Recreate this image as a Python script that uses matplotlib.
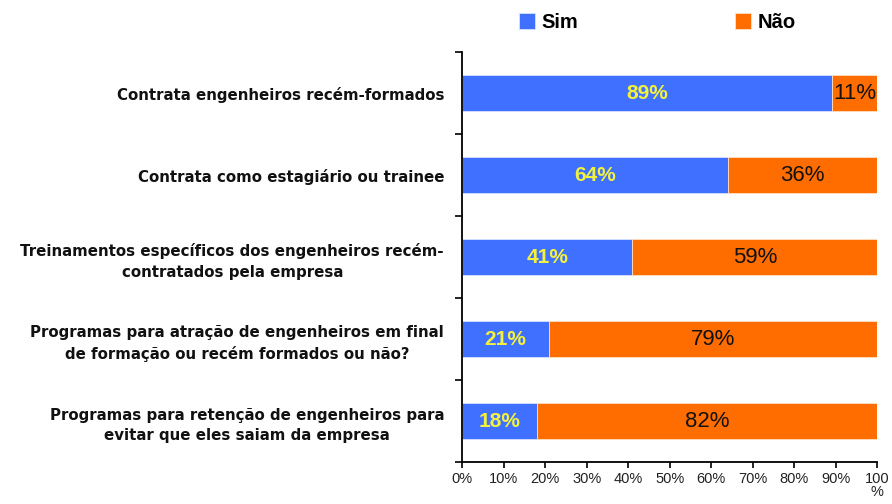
import numpy as np
import matplotlib.pyplot as plt

plt.rcParams['font.family'] = ['Liberation Sans', 'DejaVu Sans']

categorias = [
    "Contrata engenheiros recém-formados",
    "Contrata como estagiário ou trainee",
    "Treinamentos específicos dos engenheiros recém-\ncontratados pela empresa",
    "Programas para atração de engenheiros em final\nde formação ou recém formados ou não?",
    "Programas para retenção de engenheiros para\nevitar que eles saiam da empresa",
]
sim = [89, 64, 41, 21, 18]
nao = [11, 36, 59, 79, 82]
xticks = [0, 10, 20, 30, 40, 50, 60, 70, 80, 90, 100]
xlabels = ["0%", "10%", "20%", "30%", "40%", "50%", "60%", "70%", "80%", "90%", "100\n%"]

azul = "#4070FF"
laranja = "#FF6C00"

fig = plt.figure(figsize=(8.92, 5.04), dpi=100)
ax = fig.add_axes([0.518, 0.083, 0.4655, 0.8135])

y = np.arange(len(categorias))
b1 = ax.barh(y, sim, height=0.44, color=azul, edgecolor="#D8E0FF", linewidth=0.6, label="Sim")
b2 = ax.barh(y, nao, left=sim, height=0.44, color=laranja, edgecolor="#FFE0C0", linewidth=0.6, label="Não")

for i in range(len(categorias)):
    ax.text(sim[i] / 2, y[i], f"{sim[i]}%", ha="center", va="center",
            color="#F2F23C", fontsize=15, fontweight="bold")
    ax.text(sim[i] + nao[i] / 2, y[i], f"{nao[i]}%", ha="center", va="center",
            color="#111111", fontsize=16)

ax.set_xlim(0, 100)
ax.set_ylim(len(categorias) - 0.5, -0.5)
ax.set_xticks(xticks)
ax.set_xticklabels(xlabels, fontsize=10.5, color="#222222", va="top", linespacing=0.9)
ax.set_yticks(y)
ax.set_yticklabels(categorias, fontsize=10.8, fontweight="bold", multialignment="center",
                   color="#111111", family="DejaVu Sans", linespacing=1.45)
ax.tick_params(axis="y", length=0, pad=13)
ax.set_yticks(np.arange(-0.5, len(categorias), 1), minor=True)
ax.tick_params(axis="y", which="minor", length=5, width=1.2)
ax.tick_params(axis="x", length=4, width=1.2, pad=3)

for s in ["top", "right"]:
    ax.spines[s].set_visible(False)
ax.spines["left"].set_linewidth(1.3)
ax.spines["bottom"].set_linewidth(1.3)

leg = fig.legend(handles=[b1, b2], loc="center", bbox_to_anchor=(0.737, 0.955), ncol=2,
                 frameon=False, handlelength=0.8, handleheight=0.8, columnspacing=7.8,
                 handletextpad=0.3, prop={"weight": "bold", "size": 14.5})

fig.savefig("out.png", dpi=100)
